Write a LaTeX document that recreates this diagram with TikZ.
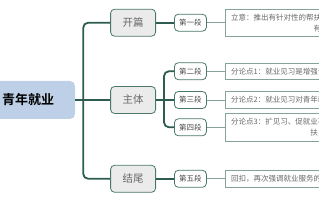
\documentclass[tikz,border=0pt]{standalone}
\usepackage{fontspec}
\setmainfont{Noto Sans CJK SC}[BoldFont={Noto Sans CJK SC Bold}]
\usepackage{xcolor}
\usepackage{tikz}
\usetikzlibrary{positioning}
\definecolor{genlan}{RGB}{189,208,231}
\definecolor{zhuhui}{RGB}{235,235,235}
\definecolor{xianlv}{RGB}{44,93,80}
\definecolor{bianlv}{RGB}{75,120,108}
\definecolor{qianlv}{RGB}{135,162,153}
\definecolor{wenhui}{RGB}{105,105,105}

\begin{document}
\begin{tikzpicture}[x=1pt, y=1pt, node distance=18pt,
        rootblk/.style={fill=genlan, rounded corners=5pt,
                    minimum width=94pt, minimum height=38pt,
                    font=\fontsize{13}{15}\selectfont\bfseries, text=black},
        secblk/.style={draw=bianlv, line width=0.8pt, fill=zhuhui, rounded corners=4pt,
                    minimum width=45pt, minimum height=27pt,
                    font=\fontsize{10.5}{12}\selectfont, text=wenhui},
        parblk/.style={draw=bianlv, line width=0.8pt, fill=white, rounded corners=4pt,
                    minimum width=32pt, minimum height=17pt, inner sep=2pt,
                    font=\fontsize{7.5}{9}\selectfont, text=black!70},
        ptbox/.style={draw=qianlv, line width=0.6pt, fill=white,
                    inner xsep=6pt, inner ysep=4.8pt,
                    font=\fontsize{7.5}{11}\selectfont, text=wenhui},
        trunk/.style={draw=xianlv, line width=1.8pt, rounded corners=5pt},
        twig/.style={draw=qianlv, line width=0.7pt}]

      \useasboundingbox (0,0) rectangle (319,200);
      \clip (0,0) rectangle (319,200);

      \node[rootblk] (root) at (28,100) {青年就业};
      \node[secblk, right=35pt of root] (zt) {主体};
      \node[secblk, above=49.5pt of zt] (kp) {开篇};
      \node[secblk, below=51pt of zt] (jw) {结尾};

      \node[parblk, right=of kp] (d1) {第一段};
      \node[parblk, right=of zt] (d3) {第三段};
      \node[parblk, above=11pt of d3] (d2) {第二段};
      \node[parblk, below=9.5pt of d3] (d4) {第四段};
      \node[parblk, right=of jw] (d5) {第五段};

      \node[ptbox, align=right, right=of d1] (p1) {立意：推出有针对性的帮扶\\有};
      \node[ptbox, text width=96pt, align=left, right=of d2] (p2) {分论点1：就业见习是增强青};
      \node[ptbox, text width=96pt, align=left, right=of d3] (p3) {分论点2：就业见习对青年就};
      \node[ptbox, align=right, right=of d4] (p4) {分论点3：扩见习、促就业不\\扶\hspace*{1em}};
      \node[ptbox, text width=96pt, align=left, right=of d5] (p5) {回扣，再次强调就业服务的};

      % trunk and branches
      \coordinate[right=8pt of root] (jn);
      \coordinate[right=8pt of zt] (sj);
      \draw[trunk] (kp.west) -| (jn) |- (jw.west);
      \draw[trunk] (root.east) -- (jn) -- (zt.west);
      \draw[trunk] (kp) -- (d1);
      \draw[trunk] (jw) -- (d5);
      \draw[trunk] (d2.west) -| (sj) |- (d4.west);
      \draw[trunk] (zt.east) -- (sj) -- (d3.west);

      \draw[twig] (d1) -- (p1);
      \draw[twig] (d2) -- (p2);
      \draw[twig] (d3) -- (p3);
      \draw[twig] (d4) -- (p4);
      \draw[twig] (d5) -- (p5);
    \end{tikzpicture}
\end{document}
